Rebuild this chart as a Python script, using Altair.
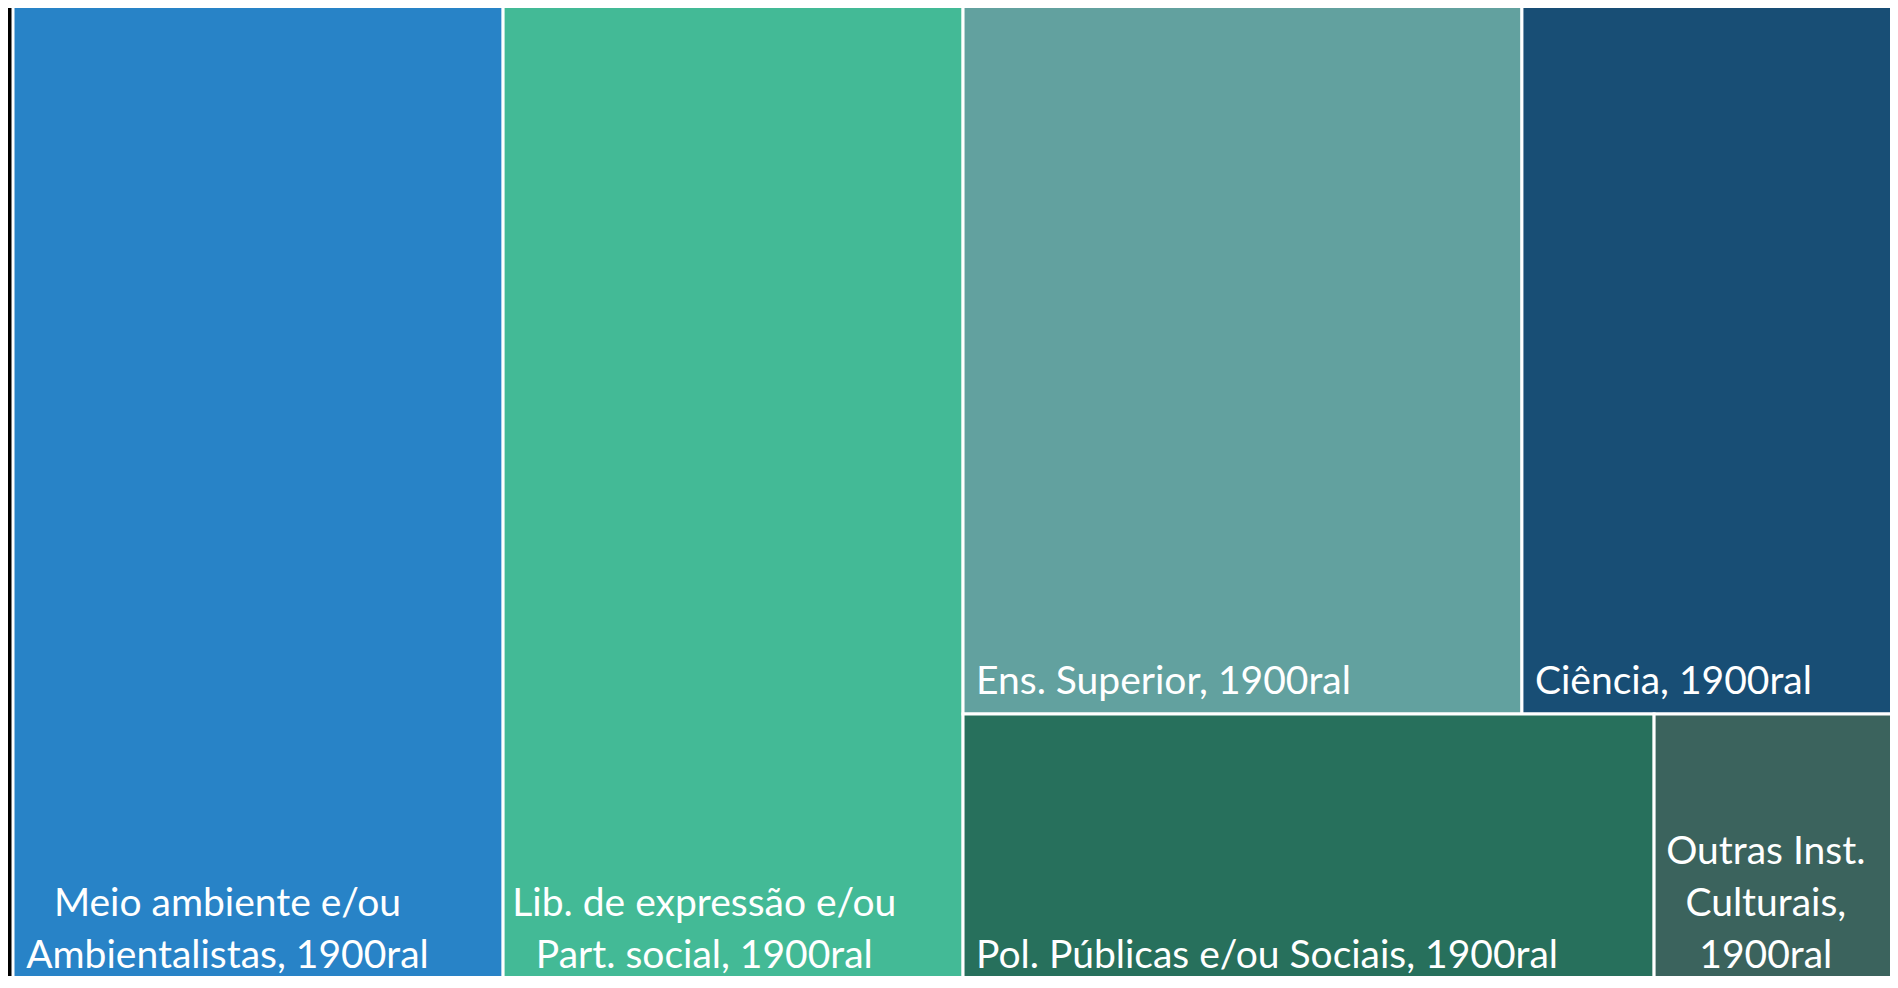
import altair as alt
import pandas as pd

# ---- data ----
categories = [
    "Meio ambiente e/ou Ambientalistas",
    "Lib. de expressão e/ou Part. social",
    "Ens. Superior",
    "Ciência",
    "Pol. Públicas e/ou Sociais",
    "Outras Inst. Culturais",
]
values = [26.0, 24.4, 21.4, 14.4, 10.2, 3.6]
label_lines = [
    ["Meio ambiente e/ou", "Ambientalistas, 1900ral"],
    ["Lib. de expressão e/ou", "Part. social, 1900ral"],
    ["Ens. Superior, 1900ral"],
    ["Ciência, 1900ral"],
    ["Pol. Públicas e/ou Sociais, 1900ral"],
    ["Outras Inst.", "Culturais,", "1900ral"],
]
colors = ["#2883C7", "#43BA96", "#62A19F", "#184E75", "#27705C", "#3B635D"]

# treemap structure: columns -> rows -> items (indices into the arrays)
structure = [[[0]], [[1]], [[2, 3], [4, 5]]]

# ---- geometry of the drawing ----
FONT = "Lato"
FS = 39
LH = 52
PAD_X = 13
PAD_X_MULTI = 15
PAD_B = 20
# the treemap spans page x 13..1898 and y 3..988 (cropped at right/bottom)
TM_X0, TM_W = 13.0, 1885.0
TM_Y0, TM_H = 3.0, 985.0
# visible plot area on the page
PLOT_L, PLOT_R = 11.0, 1890.0
PLOT_T, PLOT_B = 8.0, 976.0

# approximate glyph advance widths (em) used to centre multi-line labels
GLYPH_W = {'i': .24, 'l': .24, 'j': .24, 't': .35, 'f': .31, 'r': .37, 'I': .27,
           '.': .22, ',': .22, ' ': .19, '/': .38, 's': .42, 'a': .49, 'e': .52,
           'c': .46, 'o': .56, 'u': .56, 'n': .56, 'm': .84, 'b': .56, 'd': .56,
           'p': .56, 'x': .50, 'ã': .49, 'M': .87, 'A': .68, 'L': .50, 'P': .58,
           'O': .76, 'C': .66}


def text_width(s):
    return sum(GLYPH_W.get(ch, .58 if ch.isdigit() else .52) for ch in s) * FS


def nx(px):
    return (px - TM_X0) / TM_W


def ny(py):
    return (py - TM_Y0) / TM_H


total = float(sum(values))
rows = []
u = 0.0
for col in structure:
    col_sum = sum(values[i] for r in col for i in r)
    cw = col_sum / total
    v = 0.0
    for r in col:
        row_sum = sum(values[i] for i in r)
        rh = row_sum / col_sum
        uu = u
        for i in r:
            w = cw * values[i] / row_sum
            n = len(label_lines[i])
            x0_px = TM_X0 + uu * TM_W
            if n == 1:
                tx = nx(x0_px + PAD_X)
            else:
                est = max(text_width(s) for s in label_lines[i])
                tx = nx(x0_px + PAD_X_MULTI + est / 2)
            bottom_px = TM_Y0 + (v + rh) * TM_H
            last_base = min(bottom_px - PAD_B, PLOT_B - 8)
            first_base = last_base - (n - 1) * LH
            rows.append(dict(cat=categories[i], value=values[i],
                             x0=uu, x1=uu + w, y0=v, y1=v + rh,
                             tx=tx, ty=ny(first_base), multi=n > 1,
                             label="\n".join(label_lines[i])))
            uu += w
        v += rh
    u += cw

df = pd.DataFrame(rows)

xscale = alt.Scale(domain=[nx(PLOT_L), nx(PLOT_R)], nice=False, zero=False)
yscale = alt.Scale(domain=[ny(PLOT_T), ny(PLOT_B)], nice=False, zero=False, reverse=True)

base = alt.Chart(df)

rects = base.mark_rect(stroke="white", strokeWidth=3).encode(
    x=alt.X("x0:Q", scale=xscale, axis=None),
    x2="x1:Q",
    y=alt.Y("y0:Q", scale=yscale, axis=None),
    y2="y1:Q",
    color=alt.Color("cat:N", scale=alt.Scale(domain=categories, range=colors), legend=None),
)

text_left = base.transform_filter("!datum.multi").mark_text(
    align="left", baseline="alphabetic", font=FONT, fontSize=FS,
    lineHeight=LH, lineBreak="\n", color="white",
).encode(
    x=alt.X("tx:Q", scale=xscale, axis=None),
    y=alt.Y("ty:Q", scale=yscale, axis=None),
    text="label:N",
)

text_center = base.transform_filter("datum.multi").mark_text(
    align="center", baseline="alphabetic", font=FONT, fontSize=FS,
    lineHeight=LH, lineBreak="\n", color="white",
).encode(
    x=alt.X("tx:Q", scale=xscale, axis=None),
    y=alt.Y("ty:Q", scale=yscale, axis=None),
    text="label:N",
)

chart = alt.layer(rects, text_left, text_center).properties(
    width=int(PLOT_R - PLOT_L),
    height=int(PLOT_B - PLOT_T),
    background="black",
    padding={"left": 3, "top": 0, "right": 0, "bottom": 0},
    autosize=alt.AutoSizeParams(type="none"),
).configure_view(stroke=None)

chart.save("out.html", embed_options={"renderer": "svg", "actions": False})
